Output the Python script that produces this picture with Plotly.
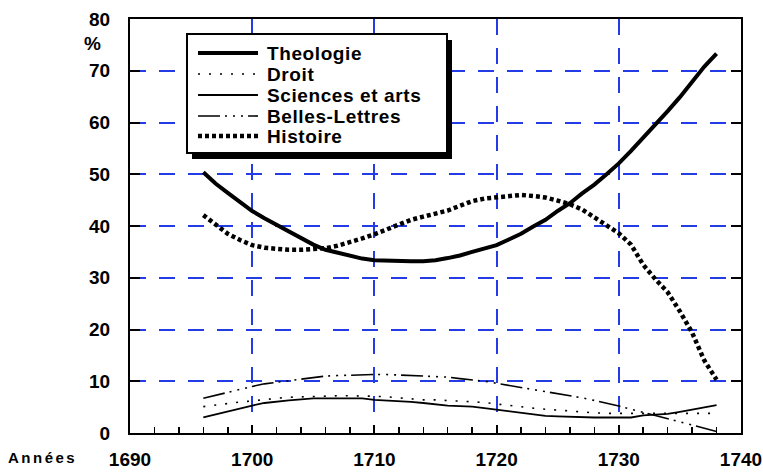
import plotly.graph_objects as go

years = list(range(1696, 1739))

theologie = [50.4, 48.2, 46.4, 44.6, 42.9, 41.5, 40.2, 38.8, 37.5, 36.4,
             35.4, 34.8, 34.2, 33.7, 33.4, 33.3, 33.2, 33.2, 33.2, 33.4,
             33.8, 34.3, 35.0, 35.6, 36.3, 37.4, 38.5, 39.9, 41.2, 42.9,
             44.4, 46.3, 48.0, 50.0, 52.1, 54.5, 57.0, 59.5, 62.2, 64.9,
             67.9, 70.8, 73.3]

droit = [5.1, 5.4, 5.8, 6.0, 6.2, 6.5, 6.7, 6.9, 7.0, 7.1,
         7.2, 7.2, 7.2, 7.2, 7.1, 7.0, 6.8, 6.6, 6.4, 6.4,
         6.3, 6.2, 6.1, 5.9, 5.6, 5.3, 5.0, 4.8, 4.6, 4.4,
         4.2, 4.0, 3.9, 3.8, 3.8, 3.8, 3.8, 3.8, 3.8, 3.8,
         3.8, 3.8, 3.8]

sciences = [3.0, 3.6, 4.1, 4.7, 5.3, 5.8, 6.1, 6.3, 6.5, 6.7,
            6.7, 6.7, 6.7, 6.7, 6.4, 6.3, 6.2, 6.0, 5.8, 5.5,
            5.3, 5.2, 5.1, 4.8, 4.5, 4.2, 3.9, 3.6, 3.3, 3.2,
            3.1, 3.0, 3.0, 3.0, 3.0, 3.0, 3.4, 3.6, 3.7, 4.1,
            4.5, 5.0, 5.4]

belles_lettres = [6.7, 7.3, 7.9, 8.4, 9.0, 9.5, 9.8, 10.2, 10.5, 10.8,
                  11.0, 11.1, 11.2, 11.3, 11.3, 11.3, 11.2, 11.1, 11.0, 10.9,
                  10.8, 10.5, 10.3, 10.0, 9.6, 9.2, 8.9, 8.4, 8.0, 7.6,
                  7.2, 6.8, 6.3, 5.8, 5.2, 4.6, 4.0, 3.4, 2.8, 2.2,
                  1.5, 0.9, 0.3]

histoire = [42.1, 40.4, 38.5, 37.3, 36.3, 35.8, 35.5, 35.4, 35.4, 35.5,
            35.7, 36.2, 36.8, 37.6, 38.4, 39.4, 40.3, 41.2, 41.8, 42.4,
            43.0, 43.9, 44.8, 45.3, 45.6, 45.9, 46.0, 45.8, 45.5, 44.9,
            44.2, 43.2, 41.7, 40.2, 38.6, 36.4, 32.5, 29.7, 27.2, 23.5,
            19.4, 14.0, 10.3]

series_names = ["Theologie", "Droit", "Sciences et arts", "Belles-Lettres", "Histoire"]
x_tick_vals = [1690, 1700, 1710, 1720, 1730, 1740]
y_tick_vals = [0, 10, 20, 30, 40, 50, 60, 70, 80]

W, H = 763, 474
L, R, T, B = 130, 22, 19, 41
PW, PH = W - L - R, H - T - B

def px(x):
    """page pixel x -> paper coordinate"""
    return (x - L) / PW

def py(y):
    """page pixel y -> paper coordinate"""
    return (H - B - y) / PH

styles = [
    dict(color="black", width=4, dash="solid"),
    dict(color="black", width=1.6, dash="2px,9px"),
    dict(color="black", width=1.8, dash="solid"),
    dict(color="black", width=1.6, dash="22px,5px,2px,6px,2px,6px,2px,5px"),
    dict(color="black", width=4.5, dash="4px,3px"),
]
data = [theologie, droit, sciences, belles_lettres, histoire]

fig = go.Figure()
for name, vals, st in zip(series_names, data, styles):
    fig.add_trace(go.Scatter(x=years, y=vals, mode="lines", name=name,
                             line=st, showlegend=False))

FAM = "Liberation Sans, Arial, sans-serif"
font_b = dict(family=FAM, size=19, color="black", weight="bold")
font_leg = dict(family=FAM, size=19, color="black", weight="bold")
grid_col = "rgb(35,60,230)"

fig.update_layout(
    width=W, height=H,
    margin=dict(l=L, r=R, t=T, b=B),
    paper_bgcolor="white", plot_bgcolor="white",
    font=font_b,
    xaxis=dict(range=[1690, 1740], tickvals=x_tick_vals,
               ticktext=[str(v) for v in x_tick_vals],
               showline=True, linecolor="black", linewidth=2, mirror=True,
               ticks="inside", ticklen=8, tickwidth=2, tickcolor="black",
               minor=dict(ticks="inside", ticklen=6, tickwidth=1.5, tickcolor="black", dtick=2),
               showgrid=True, gridcolor=grid_col, gridwidth=2, griddash="16px,13px",
               zeroline=False, tickfont=font_b, ticklabelstandoff=8,
               automargin=False),
    yaxis=dict(range=[0, 80], tickvals=y_tick_vals,
               ticktext=[str(v) for v in y_tick_vals],
               showline=True, linecolor="black", linewidth=2, mirror="ticks",
               ticks="inside", ticklen=10, tickwidth=2, tickcolor="black",
               showgrid=True, gridcolor=grid_col, gridwidth=2, griddash="16px,13px",
               zeroline=False, tickfont=font_b, ticklabelstandoff=14,
               automargin=False),
)

# Legend box with shadow
shapes = []
bx0, bx1, by0, by1 = 187, 447, 34, 153
shapes.append(dict(type="rect", xref="paper", yref="paper",
                   x0=px(bx0 + 5), x1=px(bx1 + 5), y0=py(by1 + 6), y1=py(by0 + 6),
                   fillcolor="black", line=dict(width=0), layer="above"))
shapes.append(dict(type="rect", xref="paper", yref="paper",
                   x0=px(bx0), x1=px(bx1), y0=py(by1), y1=py(by0),
                   fillcolor="white", line=dict(color="black", width=2), layer="above"))
rows = [53, 74, 95, 116, 136]
for name, st, ry in zip(series_names, styles, rows):
    shapes.append(dict(type="line", xref="paper", yref="paper",
                       x0=px(198), x1=px(258), y0=py(ry), y1=py(ry),
                       line=dict(color="black", width=st["width"], dash=st["dash"]),
                       layer="above"))
annotations = []
for name, ry in zip(series_names, rows):
    annotations.append(dict(text="<span style='letter-spacing:0.6px'>%s</span>" % name,
                            xref="paper", yref="paper",
                            x=px(265), y=py(ry), xanchor="left", yanchor="middle",
                            showarrow=False, font=font_leg))
annotations.append(dict(text="%", xref="paper", yref="paper",
                        x=px(92), y=py(43), xanchor="center", yanchor="middle",
                        showarrow=False, font=font_b))
annotations.append(dict(text="<span style='letter-spacing:2.5px'>Années</span>",
                        xref="paper", yref="paper",
                        x=px(42), y=py(457), xanchor="center", yanchor="middle",
                        showarrow=False,
                        font=dict(family=FAM, size=15, color="black", weight="bold")))
fig.update_layout(shapes=shapes, annotations=annotations)

fig.write_html("out.html",
               config={"displayModeBar": False, "staticPlot": True},
               post_script="document.body.style.margin='0';document.body.style.overflow='hidden';")
